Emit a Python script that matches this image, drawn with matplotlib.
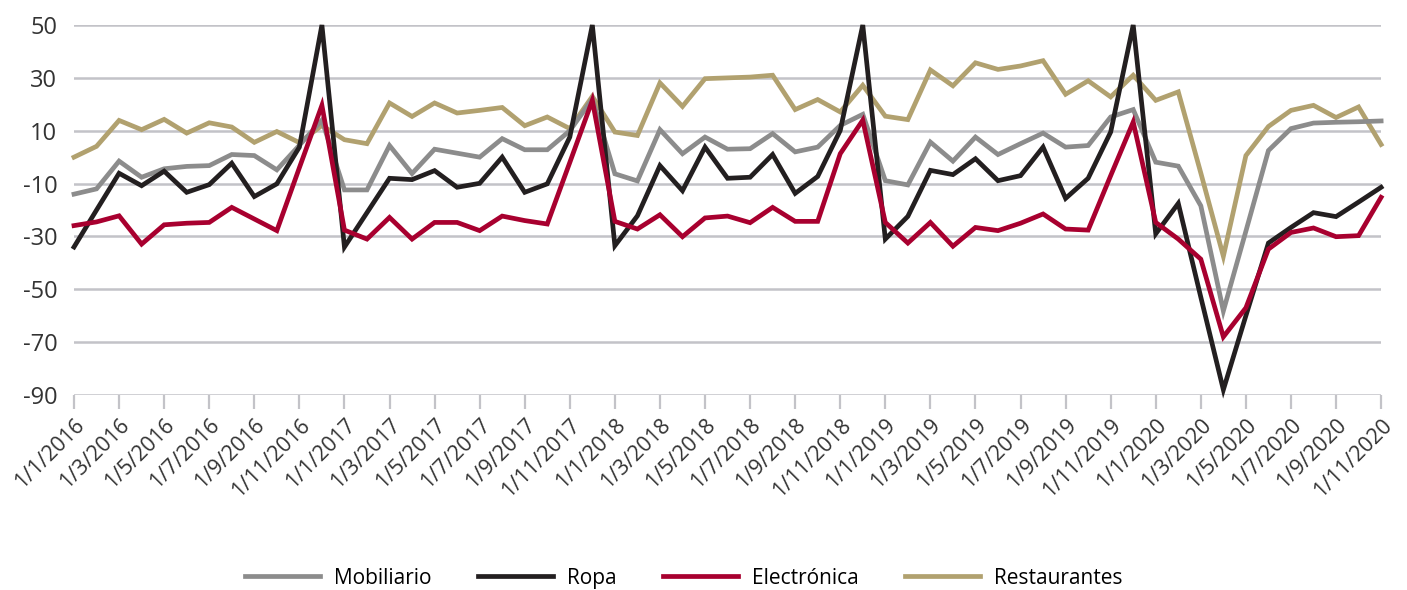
import numpy as np
import pandas as pd
import matplotlib
matplotlib.use("Agg")
import matplotlib.pyplot as plt

# monthly series, 1/1/2016 .. 1/11/2020
fechas = pd.date_range("2016-01-01", "2020-11-01", freq="MS")

mobiliario = [-14, -12, -1.5, -7.6, -4.4, -3.5, -3.2, 1.0, 0.6, -4.8,
              4.5, 14, -12.4, -12.4, 4.4, -6.2, 3.0, 1.5, 0, 7,
              2.8, 2.8, 10, 22, -6.3, -9, 10.4, 1.3, 7.6, 3,
              3.2, 8.9, 2.0, 3.8, 12, 16.2, -8.9, -10.5, 5.7, -1.5,
              7.6, 1.0, 5.1, 9.1, 3.8, 4.4, 15.2, 18, -1.9, -3.4,
              -18.4, -58.2, -28, 2.5, 10.8, 12.9, 13.2, 13.4, 13.7]
ropa = [-34, -20, -6.1, -10.8, -5.3, -13.3, -10.4, -2.3, -14.9, -10.1,
        3.8, 50, -34, -21, -8, -8.5, -5.1, -11.4, -9.9, 0,
        -13.3, -10.1, 7.6, 50, -33.5, -22.2, -3.2, -12.7, 3.8, -8,
        -7.6, 1.0, -13.7, -7.3, 10.1, 50, -31, -22.4, -5, -6.6,
        -0.6, -8.9, -7.0, 3.8, -15.6, -8, 9.5, 50, -29, -17.5,
        -53, -88, -60, -32.5, -26.6, -21, -22.5, -17, -11.4]
electronica = [-25.9, -24.5, -22.2, -32.9, -25.6, -25, -24.7, -19, -23.4, -27.8,
               -4, 19.6, -27.6, -31, -22.8, -31, -24.7, -24.7, -27.8, -22.3,
               -24, -25.3, -2, 21.5, -24.3, -27.2, -21.8, -30.1, -23, -22.3,
               -24.8, -19, -24.3, -24.3, 1.3, 14, -24.7, -32.5, -24.7, -33.7,
               -26.6, -27.8, -25, -21.5, -27.2, -27.6, -7, 13.3, -24.7, -31,
               -38.6, -68, -57, -34.8, -28.5, -26.8, -30.1, -29.7, -15.2]
restaurantes = [0, 4.1, 13.9, 10.4, 14.3, 9.1, 13, 11.4, 5.6, 9.7,
                5.5, 12, 6.6, 5.1, 20.5, 15.4, 20.5, 16.7, 17.7, 18.8,
                11.9, 15.2, 10.8, 23, 9.5, 8.2, 28.1, 19.2, 29.7, 30,
                30.3, 31, 18, 21.8, 17.1, 27.2, 15.5, 14.2, 33, 27,
                35.7, 33.2, 34.5, 36.5, 23.8, 28.9, 22.8, 31, 21.5, 24.7,
                -6, -37.5, 0.6, 11.6, 17.7, 19.6, 15, 19, 4.8]

series = ["Mobiliario", "Ropa", "Electrónica", "Restaurantes"]
colores = ["#8c8c8c", "#231f20", "#a8002f", "#b1a16f"]
datos = [mobiliario, ropa, electronica, restaurantes]
orden_z = [3, 4, 5, 2]

plt.rcParams['font.family'] = ['Open Sans', 'DejaVu Sans']
plt.rcParams['axes.unicode_minus'] = False

fig = plt.figure(figsize=(14.07, 5.90), dpi=100)
ax = fig.add_axes([0.0526, 0.3305, 0.9290, 0.6271])

x = np.arange(len(fechas))
lineas = []
for nombre, col, vals, z in zip(series, colores, datos, orden_z):
    l, = ax.plot(x, vals, color=col, lw=3.4, label=nombre, zorder=z,
                 solid_joinstyle="miter", clip_on=False)
    lineas.append(l)

ax.set_ylim(-90, 50)
ax.set_xlim(0, len(fechas) - 1)
ax.set_yticks(np.arange(-90, 51, 20))
ax.yaxis.grid(True, color="#c3c3c8", lw=1.8)
ax.set_axisbelow(True)
for s in ax.spines.values():
    s.set_visible(False)

ticks = x[::2]
ax.set_xticks(ticks)
ax.set_xticklabels([f"1/{d.month}/{d.year}" for d in fechas[::2]],
                   rotation=45, ha="right", rotation_mode="anchor")
ax.tick_params(axis="x", length=10, width=1.6, color="#c3c3c8",
               labelsize=15.5, labelcolor="#333333", pad=4)
ax.tick_params(axis="y", length=0, labelsize=17, labelcolor="#333333", pad=12)

fig.legend(lineas, series, loc="center", bbox_to_anchor=(0.486, 0.02),
           ncol=4, frameon=False, fontsize=15, handlelength=3.6,
           handletextpad=0.7, columnspacing=2.2)

fig.savefig("out.png", dpi=100, facecolor="white")
